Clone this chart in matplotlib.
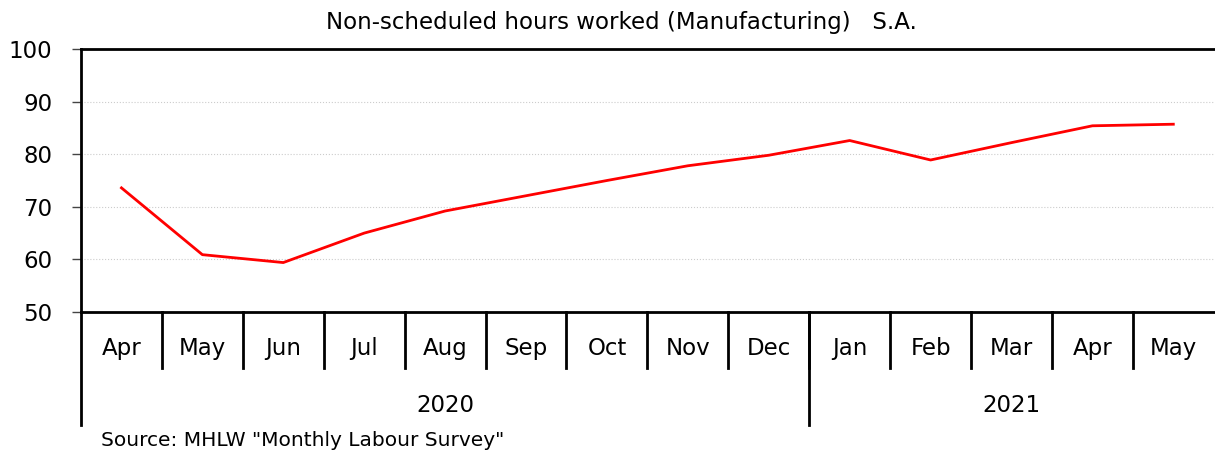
import matplotlib.pyplot as plt
import matplotlib.transforms as mtransforms
import numpy as np

# months and values (S.A. index)
months = ['Apr', 'May', 'Jun', 'Jul', 'Aug', 'Sep', 'Oct', 'Nov', 'Dec',
          'Jan', 'Feb', 'Mar', 'Apr', 'May']
values = [73.6, 60.9, 59.4, 65.0, 69.2, 72.1, 75.0, 77.8, 79.8,
          82.6, 78.9, 82.2, 85.4, 85.7]
years = ['2020', '2021']
year_counts = [9, 5]

plt.rcParams['font.family'] = 'DejaVu Sans'

fig = plt.figure(figsize=(12.15, 4.5), dpi=100)
ax = fig.add_axes([81 / 1215, 1 - 312 / 450, 1 - 81 / 1215 - 0.001, 263 / 450])

x = np.arange(len(months)) + 0.5
ax.plot(x, values, color='red', linewidth=2)

ax.set_xlim(0, len(months))
ax.set_ylim(50, 100)
ax.set_yticks(np.arange(50, 101, 10))
ax.tick_params(axis='y', labelsize=16.5, length=6.5, width=1, color='#444444',
               direction='out', pad=14)
ax.set_xticks([])
ax.grid(axis='y', color='#cccccc', linestyle=':', linewidth=0.8)
for s in ['left', 'bottom', 'top']:
    ax.spines[s].set_linewidth(2)
ax.spines['right'].set_visible(False)

# multi-level category axis below the plot
trans = mtransforms.blended_transform_factory(ax.transData, ax.transAxes)
for i in range(1, len(months)):
    ax.plot([i, i], [0, -0.213], color='black', lw=2, transform=trans, clip_on=False)
for i, m in enumerate(months):
    ax.text(i + 0.5, -0.14, m, transform=trans, ha='center', va='center', fontsize=16.5)

start = 0
for y, n in zip(years, year_counts):
    ax.plot([start, start], [0, -0.43], color='black', lw=2, transform=trans, clip_on=False)
    ax.text(start + n / 2, -0.355, y, transform=trans, ha='center', va='center', fontsize=16.5)
    start += n

fig.text(621 / 1215, 1 - 22 / 450, 'Non-scheduled hours worked (Manufacturing)   S.A.',
         ha='center', va='center', fontsize=16.5)
fig.text(101 / 1215, 1 - 440 / 450, 'Source: MHLW "Monthly Labour Survey"',
         ha='left', va='center', fontsize=14.5)

fig.savefig('out.png', dpi=100)
